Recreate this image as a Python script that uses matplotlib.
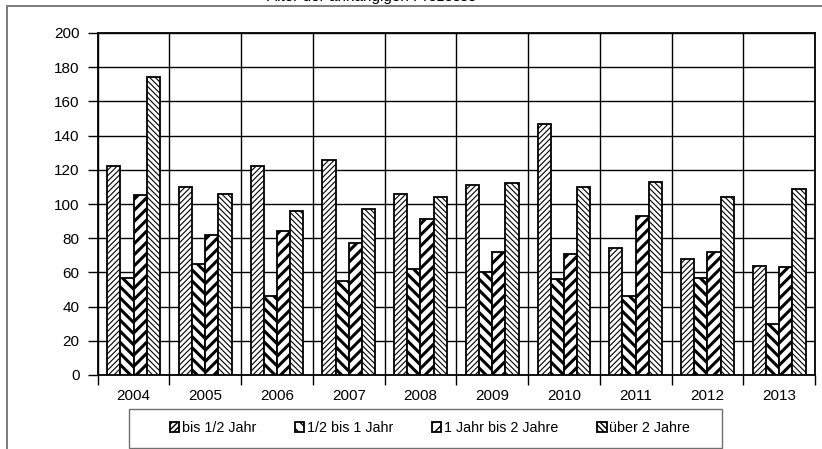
import numpy as np
import matplotlib
matplotlib.use("Agg")
import matplotlib.pyplot as plt
from matplotlib.patches import Rectangle

plt.rcParams['font.family'] = ['Liberation Sans', 'DejaVu Sans']

years = ['2004', '2005', '2006', '2007', '2008', '2009', '2010', '2011', '2012', '2013']
bis_halb = [122, 110, 122, 126, 106, 111, 147, 74, 68, 64]
halb_bis_1 = [57, 65, 46, 55, 62, 60, 56, 46, 57, 30]
ein_bis_2 = [105, 82, 84, 77, 91, 72, 71, 93, 72, 63]
ueber_2 = [174, 106, 96, 97, 104, 112, 110, 113, 104, 109]
labels = ['bis 1/2 Jahr', '1/2 bis 1 Jahr', '1 Jahr bis 2 Jahre', 'über 2 Jahre']

series = [bis_halb, halb_bis_1, ein_bis_2, ueber_2]
hatches = ['//////', '\\\\\\', '///', '\\\\\\\\\\\\']
hatch_lw = [0.8, 2.2, 2.2, 0.8]

fig = plt.figure(figsize=(8.22, 4.49), dpi=100)
ax = fig.add_axes([97.7 / 822, 1 - 375 / 449, (815 - 97.7) / 822, (375 - 33) / 449])

x = np.arange(len(years))
w = 0.184
handles = []
for k, (vals, h, lw) in enumerate(zip(series, hatches, hatch_lw)):
    with plt.rc_context({'hatch.linewidth': lw, 'hatch.color': 'black'}):
        bars = ax.bar(x + (k - 1.5) * w, vals, w, color='white', edgecolor='black',
                      linewidth=1.3, hatch=h, label=labels[k], zorder=3)
        for b in bars:
            if hasattr(b, 'set_hatch_linewidth'):
                b.set_hatch_linewidth(lw)
    handles.append(bars)

ax.set_xlim(-0.5, len(years) - 0.5)
ax.set_ylim(0, 200)
ax.set_yticks(np.arange(0, 201, 20))
ax.set_xticks(np.arange(-0.5, len(years), 1.0))
ax.set_xticks(x, minor=True)
ax.set_xticklabels([])
ax.set_xticklabels(years, minor=True)
ax.tick_params(axis='x', which='minor', length=0, pad=10, labelsize=11)
ax.tick_params(axis='x', which='major', length=7, width=1, direction='out')
ax.tick_params(axis='y', length=7, width=1, direction='out', pad=6, labelsize=11)
ax.grid(True, which='major', color='black', linewidth=1, zorder=0)
ax.set_axisbelow(True)
for s in ax.spines.values():
    s.set_linewidth(1.3)

# legend frame drawn separately, entries centred inside
fig.add_artist(Rectangle((129 / 822, 1 - 448 / 449), (722 - 129) / 822, 39 / 449,
                         transform=fig.transFigure, fill=False,
                         edgecolor='#707070', linewidth=1.0))
leg = fig.legend(handles=handles, labels=labels, ncol=4, loc='center',
                 bbox_to_anchor=(430 / 822, 1 - 428 / 449),
                 fontsize=10.3, frameon=False, handlelength=0.65, handleheight=0.65,
                 handletextpad=0.2, columnspacing=2.7)

fig.add_artist(Rectangle((7 / 822, -0.1), 1.2, 1 - 6.5 / 449 + 0.1, transform=fig.transFigure,
                         fill=False, edgecolor='#707070', linewidth=1.3))

fig.text(372 / 822, 1 - 1.5 / 449, 'Alter der anhängigen Prozesse', ha='center',
         va='baseline', fontsize=11)

fig.savefig('out.png', dpi=100)
